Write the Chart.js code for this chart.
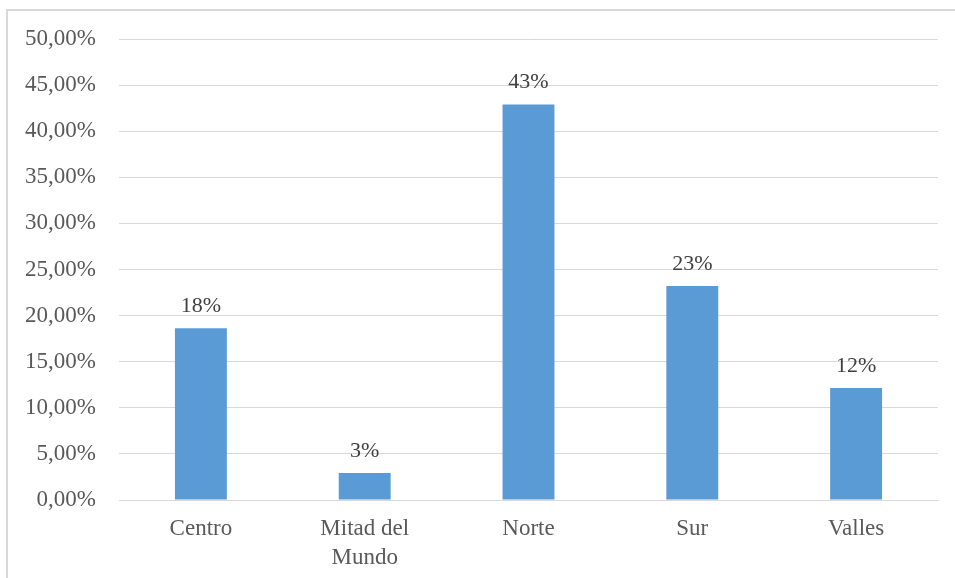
<!DOCTYPE html>
<html>
<head>
<meta charset="utf-8">
<script src="https://cdn.jsdelivr.net/npm/chart.js@4"></script>
<style>
html,body{margin:0;padding:0;background:#fff;}
#wrap{width:955px;height:578px;position:relative;}
</style>
</head>
<body>
<div id="wrap"><canvas id="c" width="955" height="578"></canvas></div>
<script>
const categories = [["Centro"], ["Mitad del", "Mundo"], ["Norte"], ["Sur"], ["Valles"]];
const values = [18.63, 2.93, 42.9, 23.2, 12.15];
const dataLabels = ["18%", "3%", "43%", "23%", "12%"];
const yTicks = { min: 0, max: 50, step: 5 };

const FONT = '"Liberation Serif", "Times New Roman", serif';

const framePlugin = {
  id: 'frame',
  beforeDraw(chart) {
    const ctx = chart.ctx;
    ctx.save();
    ctx.fillStyle = '#ffffff';
    ctx.fillRect(0, 0, chart.width, chart.height);
    ctx.strokeStyle = '#d9d9d9';
    ctx.lineWidth = 2;
    ctx.beginPath();
    ctx.moveTo(7, chart.height + 5);
    ctx.lineTo(7, 10);
    ctx.lineTo(chart.width + 5, 10);
    ctx.stroke();
    ctx.restore();
  }
};

const labelPlugin = {
  id: 'barLabels',
  afterDatasetsDraw(chart) {
    const ctx = chart.ctx;
    const meta = chart.getDatasetMeta(0);
    ctx.save();
    ctx.font = '22px ' + FONT;
    ctx.fillStyle = '#404040';
    ctx.textAlign = 'center';
    ctx.textBaseline = 'middle';
    meta.data.forEach((bar, i) => {
      ctx.fillText(dataLabels[i], bar.x, bar.y - 22);
    });
    ctx.restore();
  }
};

new Chart(document.getElementById('c'), {
  type: 'bar',
  data: {
    labels: categories,
    datasets: [{
      data: values,
      backgroundColor: '#5b9bd5',
      borderWidth: 0,
      categoryPercentage: 1,
      barPercentage: 0.317
    }]
  },
  options: {
    responsive: false,
    animation: false,
    devicePixelRatio: 1,
    layout: { padding: { left: 0, right: 17, top: 39, bottom: 0 } },
    plugins: { legend: { display: false }, tooltip: { enabled: false } },
    scales: {
      x: {
        grid: { display: false, drawTicks: false },
        border: { display: true, color: '#d9d9d9', width: 1 },
        ticks: {
          color: '#595959',
          font: { family: FONT, size: 23, lineHeight: 1.26 },
          padding: 14,
          maxRotation: 0,
          autoSkip: false
        },
        afterFit(scale) { scale.height = 78; }
      },
      y: {
        min: yTicks.min,
        max: yTicks.max,
        grid: { color: '#d9d9d9', lineWidth: 1, drawTicks: false },
        border: { display: false },
        ticks: {
          stepSize: yTicks.step,
          color: '#595959',
          font: { family: FONT, size: 23 },
          padding: 23,
          callback: v => v.toFixed(2).replace('.', ',') + '%'
        },
        afterFit(scale) { scale.width = 119; }
      }
    }
  },
  plugins: [framePlugin, labelPlugin]
});
</script>
</body>
</html>
